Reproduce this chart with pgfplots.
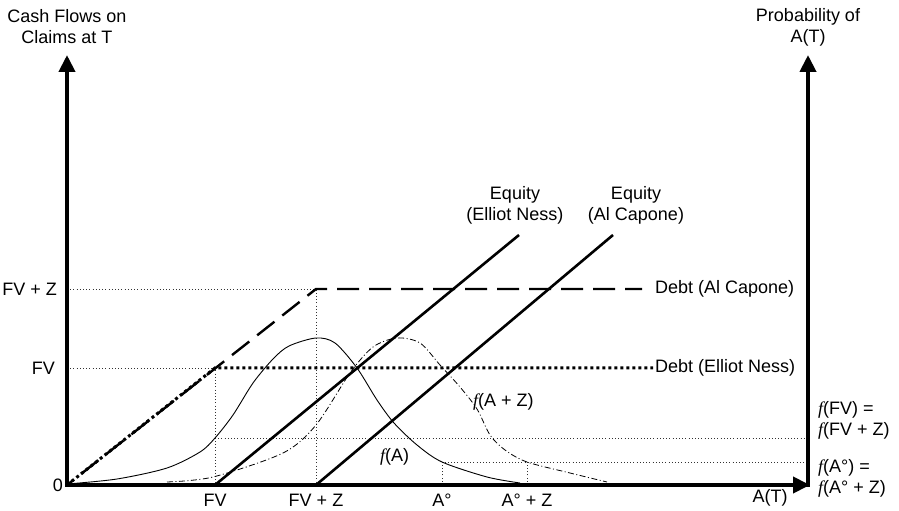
\documentclass[border=0pt]{standalone}
\usepackage{fontspec}
\setmainfont{Liberation Sans}
\newfontfamily\timesf{Liberation Serif}
\usepackage{pgfplots}
\pgfplotsset{compat=1.18}
\usetikzlibrary{arrows.meta}
\newcommand{\fn}{{\timesf\itshape f}}

\begin{document}
\fontsize{18}{21}\selectfont
\begin{tikzpicture}[font=\fontsize{18}{21}\selectfont]
\begin{axis}[
  scale only axis, width=899pt, height=511pt,
  xmin=-67, xmax=832, ymin=-26, ymax=485,
  axis line style={draw=none}, xtick=\empty, ytick=\empty,
  clip=false,
]
% guide lines (thin dotted)
\pgfplotsset{guide/.style={black!80, line width=0.8pt, dash pattern=on 1pt off 2.2pt}}
\addplot[guide] coordinates {(0,196) (249,196) (249,0)};
\addplot[guide] coordinates {(0,117) (148,117) (148,0)};
\addplot[guide] coordinates {(148,47) (741,47)};
\addplot[guide] coordinates {(375,0) (375,23) (741,23)};
\addplot[guide] coordinates {(460,0) (460,23)};

% density f(A)
\addplot[black, line width=0.9pt, smooth, tension=0.5] coordinates {
  (0,1) (50,6) (100,17) (133,33) (148,47) (166,70) (186,102) (206,126)
  (222,139) (249,147) (268,142) (290,117) (310,85) (327,62) (350,40)
  (375,23) (420,8) (453,2)};
% density f(A+Z)
\addplot[black, line width=0.8pt, smooth, tension=0.5,
  dash pattern=on 6pt off 2.5pt on 1pt off 2.5pt] coordinates {
  (100,3) (146,8) (216,32) (249,60) (283,112) (306,138) (330,147)
  (353,142) (373,120) (393,98) (410,76) (423,50) (438,35) (460,23)
  (503,12) (540,3)};

% debt of Al Capone (dashed) and Elliot Ness (dotted)
\addplot[black, line width=2.4pt, dash pattern=on 22pt off 10pt, dash phase=14pt] coordinates {
  (0,0) (249,196) (575,196)};
\addplot[black, line width=3pt, dash pattern=on 3pt off 3pt] coordinates {
  (0,0) (148,117) (586,117)};

% equity payoffs
\addplot[black, line width=2.6pt] coordinates {(148,0) (452,250)};
\addplot[black, line width=2.6pt] coordinates {(249,0) (546,250)};

% axes
\addplot[black, line width=4pt, -{Triangle[width=16pt,length=17pt]}] coordinates {(0,-2) (0,430)};
\addplot[black, line width=4pt, -{Triangle[width=16pt,length=17pt]}] coordinates {(-2,0) (743,0)};
\addplot[black, line width=4pt, -{Triangle[width=16pt,length=17pt]}] coordinates {(741,-2) (741,430)};

% texts
\node[inner sep=0pt, align=center] at (axis cs:0,458) {Cash Flows on\\Claims at T};
\node[inner sep=0pt, align=center] at (axis cs:741,458) {Probability of\\A(T)};
\node[inner sep=0pt, anchor=east] at (axis cs:-10,196) {FV + Z};
\node[inner sep=0pt, anchor=east] at (axis cs:-12,117) {FV};
\node[inner sep=0pt, anchor=east] at (axis cs:-4,0) {0};
\node[inner sep=0pt, anchor=base] at (axis cs:148,-22) {FV};
\node[inner sep=0pt, anchor=base] at (axis cs:249,-22) {FV + Z};
\node[inner sep=0pt, anchor=base] at (axis cs:375,-22) {A°};
\node[inner sep=0pt, anchor=base] at (axis cs:460,-22) {A° + Z};
\node[inner sep=0pt, anchor=base] at (axis cs:703,-17) {A(T)};
\node[inner sep=0pt, align=center] at (axis cs:448,280) {Equity\\(Elliot Ness)};
\node[inner sep=0pt, align=center] at (axis cs:569,280) {Equity\\(Al Capone)};
\node[inner sep=0pt, anchor=west] at (axis cs:588,196) {Debt (Al Capone)};
\node[inner sep=0pt, anchor=west] at (axis cs:588,117) {Debt (Elliot Ness)};
\node[inner sep=0pt, anchor=west] at (axis cs:406,83) {\fn(A + Z)};
\node[inner sep=0pt, anchor=west] at (axis cs:313,28) {\fn(A)};
\node[inner sep=0pt, anchor=west, align=left] at (axis cs:751,65) {\fn(FV) =\\\fn(FV + Z)};
\node[inner sep=0pt, anchor=west, align=left] at (axis cs:751,7) {\fn(A°) =\\\fn(A° + Z)};
\end{axis}
\end{tikzpicture}
\end{document}
